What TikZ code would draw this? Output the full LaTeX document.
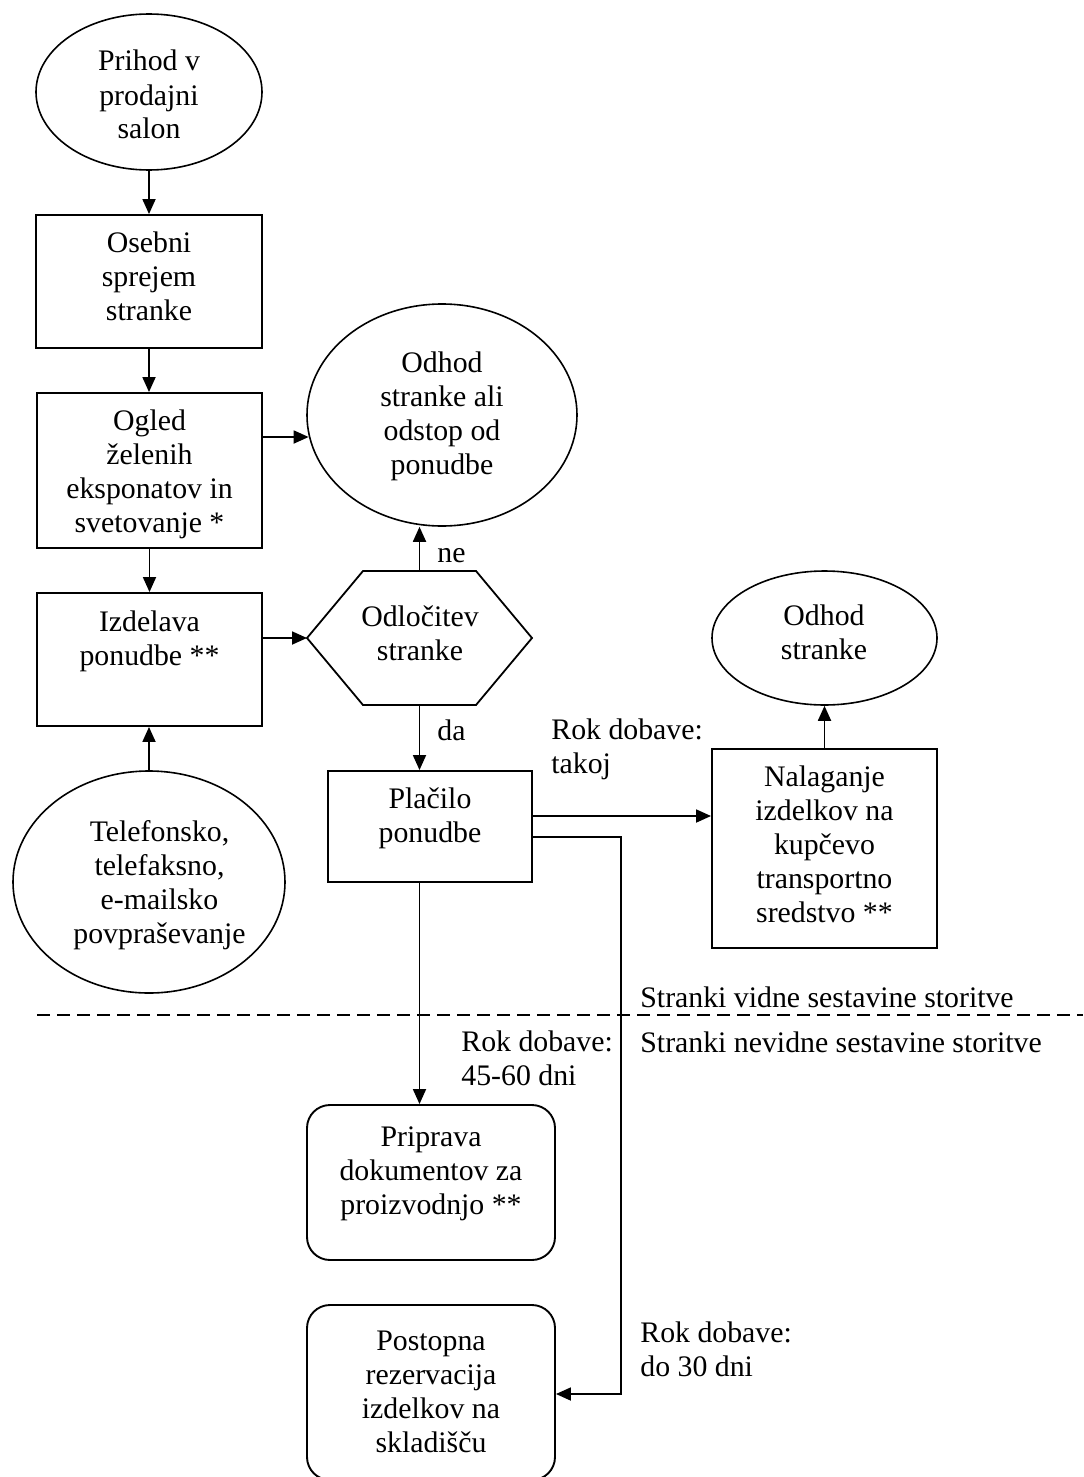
\documentclass[tikz,border=0pt]{standalone}
\usepackage{fontspec}
\setmainfont{Liberation Serif}
\usetikzlibrary{arrows.meta,shapes.geometric}
\begin{document}
\begin{tikzpicture}[x=0.5pt,y=-0.5pt,
  font=\fontsize{14.9pt}{17pt}\selectfont,
  box/.style={draw, line width=0.95pt, rectangle, inner sep=0pt},
  rbox/.style={box, rounded corners=11.5pt},
  oval/.style={draw, line width=0.8pt, ellipse, inner sep=0pt},
  txt/.style={anchor=base, align=center, inner sep=0pt},
  lbl/.style={anchor=base west, align=left, inner sep=0pt},
  conn/.style={line width=0.9pt},
  arr/.style={conn, -{Triangle[length=7.5pt,width=6.5pt]}},
]
\clip (0,0) rectangle (1083,1477);

% left column (text nodes placed by the baseline of their last line)
\node[oval, minimum width=113pt, minimum height=78pt] (e1) at (149,92) {};
\node[txt] (e1t) at (149,139) {Prihod v\\prodajni\\salon};
\node[box, minimum width=113pt, minimum height=66.5pt] (r2) at (149,281.5) {};
\node[txt] (r2t) at (149,320) {Osebni\\sprejem\\stranke};
\node[box, minimum width=112.5pt, minimum height=77.5pt] (r3) at (149.5,470.5) {};
\node[txt] (r3t) at (149.5,532) {Ogled\\želenih\\eksponatov in\\svetovanje *};
\node[box, minimum width=112.5pt, minimum height=66.5pt] (r4) at (149.5,659.5) {};
\node[txt] (r4t) at (149.5,665) {Izdelava\\ponudbe **};
\node[oval, minimum width=136pt, minimum height=111pt] (tel) at (149,882) {};
\node[txt] (telt) at (159.5,943) {Telefonsko,\\telefaksno,\\e-mailsko\\povpraševanje};

% middle column
\node[oval, minimum width=135pt, minimum height=111pt] (odh) at (442,415) {};
\node[txt] (odht) at (442,474) {Odhod\\stranke ali\\odstop od\\ponudbe};
\coordinate (hL) at (307,638);
\coordinate (hTL) at (363,571);
\coordinate (hTR) at (476,571);
\coordinate (hR) at (532,638);
\coordinate (hBR) at (476,705);
\coordinate (hBL) at (363,705);
\coordinate (hT) at (419.5,571);
\coordinate (hB) at (419.5,705);
\draw[conn, line join=miter] (hL) -- (hTL) -- (hTR) -- (hR) -- (hBR) -- (hBL) -- cycle;
\node[txt] (hext) at (420,660) {Odločitev\\stranke};
\node[box, minimum width=102pt, minimum height=55.5pt] (pl) at (430,826.5) {};
\node[txt] (plt) at (430,842) {Plačilo\\ponudbe};
\node[rbox, minimum width=124pt, minimum height=77.5pt] (pri) at (431,1182.5) {};
\node[txt] (prit) at (431,1214) {Priprava\\dokumentov za\\proizvodnjo **};
\node[rbox, minimum width=124pt, minimum height=87.5pt] (pos) at (431,1392.5) {};
\node[txt] (post) at (431,1452) {Postopna\\rezervacija\\izdelkov na\\skladišču};

% right column
\node[oval, minimum width=112.5pt, minimum height=67pt] (ods) at (824.5,638) {};
\node[txt] (odst) at (824,659) {Odhod\\stranke};
\node[box, minimum width=112.5pt, minimum height=99.5pt] (nal) at (824.5,848.5) {};
\node[txt] (nalt) at (824.5,922) {Nalaganje\\izdelkov na\\kupčevo\\transportno\\sredstvo **};

% labels
\node[lbl] (ne) at (437,562) {ne};
\node[lbl] (da) at (437,740) {da};
\node[lbl] (rk1) at (551,773) {Rok dobave:\\takoj};
\node[lbl] (vid) at (640,1007) {Stranki vidne sestavine storitve};
\node[lbl] (nevid) at (640,1052) {Stranki nevidne sestavine storitve};
\node[lbl] (rk2) at (461,1085) {Rok dobave:\\45-60 dni};
\node[lbl] (rk3) at (640,1376) {Rok dobave:\\do 30 dni};

% dashed separator
\coordinate (dl) at (37,1015);
\coordinate (dr) at (1083,1015);
\draw[conn, dash pattern=on 6.5pt off 3.5pt] (dl) -- (dr);

% connectors
\draw[arr] (e1.south) -- (e1.south |- r2.north);
\draw[arr] (r2.south) -- (r2.south |- r3.north);
\coordinate (a1) at ([yshift=16.75pt]r3.east);
\draw[arr] (a1) -- (a1 -| odh.189);
\draw[arr] (r3.south) -- (r3.south |- r4.north);
\draw[arr] (tel.north) -- (tel.north |- r4.south);
\draw[arr] (hL -| r4.east) -- (hL);
\draw[arr] (hT) -- (hT |- odh.south);
\draw[arr] (hB) -- (hB |- pl.north);
\coordinate (a2) at ([yshift=5.25pt]pl.east);
\draw[arr] (a2) -- (a2 -| nal.west);
\draw[arr] (nal.north) -- (nal.north |- ods.south);
\draw[arr] (hB |- pl.south) -- (hB |- pri.north);
\coordinate (a3) at ([yshift=-5.25pt]pl.east);
\coordinate (bend) at (621,1394);
\draw[arr] (a3) -| (bend) -- (bend -| pos.east);
\end{tikzpicture}
\end{document}
